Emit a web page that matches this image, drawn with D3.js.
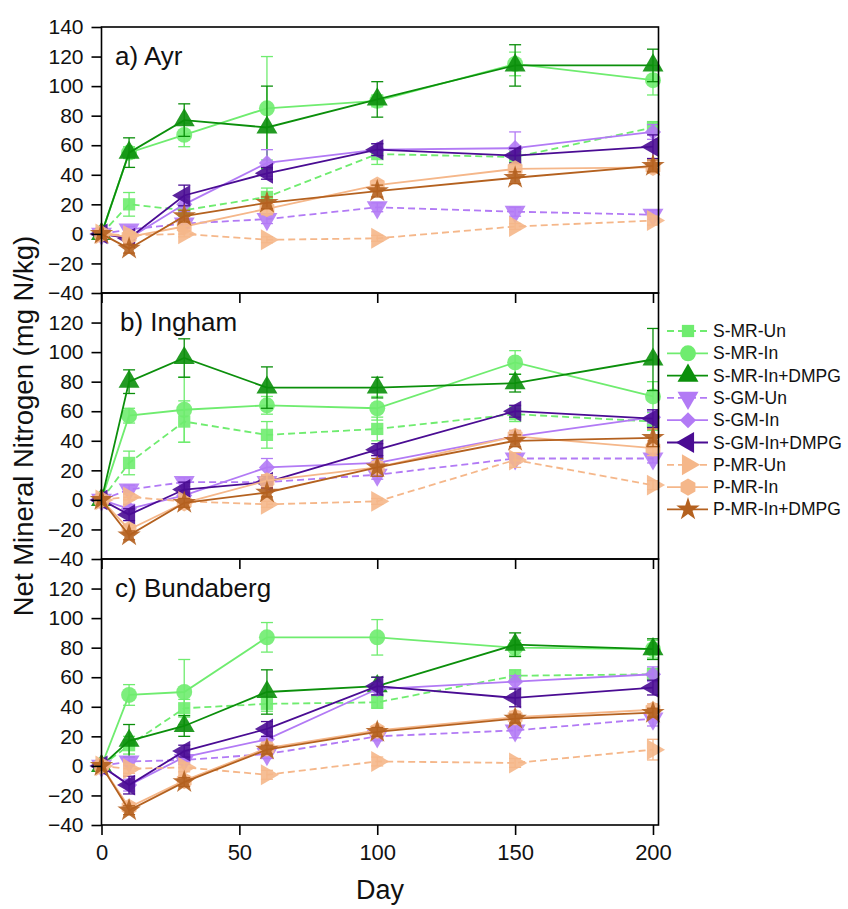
<!DOCTYPE html>
<html>
<head>
<meta charset="utf-8">
<script src="https://cdn.jsdelivr.net/npm/d3@7"></script>
<style>
body { margin: 0; background: #fff; }
svg { font-family: "Liberation Sans", Arial, sans-serif; }
</style>
</head>
<body>
<svg id="chart" width="848" height="909"></svg>
<script>
const days = [0, 10, 30, 60, 100, 150, 200];
const seriesNames = ["S-MR-Un", "S-MR-In", "S-MR-In+DMPG", "S-GM-Un", "S-GM-In", "S-GM-In+DMPG", "P-MR-Un", "P-MR-In", "P-MR-In+DMPG"];
const siteLabels = ["a) Ayr", "b) Ingham", "c) Bundaberg"];
const yTicks = [-40, -20, 0, 20, 40, 60, 80, 100, 120, 140];
const xTicks = [0, 50, 100, 150, 200];

// one row per series, one column per day
const ayrMeans = [
  [0, 20, 16, 25, 54, 52, 72],
  [0, 55, 67, 85, 90, 115, 104],
  [0, 55, 77, 72, 91, 114, 114],
  [0, 3, 7, 10, 18, 15, 13],
  [0, -3, 20, 48, 57, 58, 69],
  [0, -3, 26, 41, 57, 53, 59],
  [0, -1, 0, -4, -3, 5, 9],
  [0, -2, 5, 17, 33, 44, 45],
  [0, -10, 12, 21, 29, 38, 46]
];
const ayrErrors = [
  [0, 8, 4, 6, 7, 4, 4],
  [0, 4, 8, 35, 4, 8, 10],
  [0, 10, 11, 28, 12, 14, 11],
  [0, 2, 3, 3, 3, 3, 3],
  [0, 3, 5, 9, 4, 11, 5],
  [0, 3, 7, 4, 4, 5, 8],
  [0, 2, 2, 2, 2, 2, 3],
  [0, 3, 3, 4, 3, 3, 4],
  [0, 3, 4, 4, 4, 4, 4]
];

const inghamMeans = [
  [0, 25, 53, 44, 48, 58, 53],
  [0, 57, 61, 64, 62, 93, 70],
  [0, 80, 96, 76, 76, 79, 95],
  [0, 7, 12, 12, 17, 28, 28],
  [0, -6, 3, 22, 25, 43, 56],
  [0, -10, 7, 12, 34, 60, 55],
  [0, 2, -1, -3, -1, 27, 10],
  [0, -20, -2, 13, 22, 43, 35],
  [0, -24, -2, 5, 22, 40, 42]
];
const inghamErrors = [
  [0, 8, 14, 9, 8, 5, 6],
  [0, 5, 22, 6, 8, 8, 10],
  [0, 8, 13, 14, 7, 6, 21],
  [0, 3, 3, 3, 3, 3, 3],
  [0, 3, 4, 6, 5, 4, 4],
  [0, 4, 5, 4, 4, 4, 6],
  [0, 2, 2, 2, 2, 5, 3],
  [0, 3, 3, 4, 4, 4, 5],
  [0, 3, 3, 3, 6, 4, 6]
];

const bundabergMeans = [
  [0, 14, 39, 42, 43, 61, 62],
  [0, 48, 50, 87, 87, 80, 79],
  [0, 17, 27, 50, 54, 82, 79],
  [0, 3, 4, 8, 20, 24, 32],
  [0, -13, 6, 18, 52, 57, 62],
  [0, -13, 10, 25, 54, 46, 53],
  [0, -2, -1, -6, 3, 2, 11],
  [0, -28, -10, 12, 24, 33, 38],
  [0, -30, -11, 11, 23, 32, 36]
];
const bundabergErrors = [
  [0, 6, 6, 5, 4, 4, 4],
  [0, 7, 22, 10, 12, 5, 6],
  [0, 11, 7, 15, 6, 8, 7],
  [0, 3, 3, 3, 3, 5, 5],
  [0, 4, 4, 5, 4, 4, 5],
  [0, 6, 4, 5, 6, 6, 5],
  [0, 3, 3, 3, 3, 3, 7],
  [0, 3, 3, 4, 3, 4, 4],
  [0, 3, 3, 3, 3, 3, 3]
];

const siteMeans = [ayrMeans, inghamMeans, bundabergMeans];
const siteErrors = [ayrErrors, inghamErrors, bundabergErrors];

// look of each series
const seriesColor = ["#6fec6f", "#6fec6f", "#0b8f0b", "#b27af5", "#b27af5", "#4a0c93", "#f5b78a", "#f5b78a", "#b4611f"];
const seriesDash = [true, false, false, true, false, false, true, false, false];
const seriesShape = ["square", "circle", "up", "down", "diamond", "left", "right", "hex", "star"];

const svg = d3.select("#chart");
const left = 101.5, right = 658.5;
const panelTop = 27, panelH = 266;

const x = d3.scaleLinear().domain([0, 202]).range([left, right]);

const hexagon = {
  draw: function(ctx, size) {
    var r = Math.sqrt(size / (1.5 * Math.sqrt(3)));
    for (var i = 0; i < 6; i++) {
      var a = Math.PI / 6 + i * Math.PI / 3;
      if (i === 0) ctx.moveTo(r * Math.cos(a), r * Math.sin(a));
      else ctx.lineTo(r * Math.cos(a), r * Math.sin(a));
    }
    ctx.closePath();
  }
};

function markerPath(shape) {
  switch (shape) {
    case "square": return d3.symbol(d3.symbolSquare, 150)();
    case "circle": return d3.symbol(d3.symbolCircle, 200)();
    case "diamond": return d3.symbol(d3.symbolSquare, 130)();
    case "hex": return d3.symbol(hexagon, 190)();
    case "star": return d3.symbol(d3.symbolStar, 170)();
    default: return d3.symbol(d3.symbolTriangle, 190)();
  }
}
function markerRotate(shape) {
  if (shape === "down") return 180;
  if (shape === "left") return -90;
  if (shape === "right") return 90;
  if (shape === "diamond") return 45;
  return 0;
}

siteLabels.forEach(function(label, p) {
  var top = panelTop + p * panelH;
  var y = d3.scaleLinear().domain([-40, 140]).range([top + panelH, top]);
  var g = svg.append("g");

  // series lines, error bars, markers
  seriesNames.forEach(function(name, s) {
    var means = siteMeans[p][s];
    var errs = siteErrors[p][s];
    var col = seriesColor[s];
    var pts = days.map(function(d, i) { return { day: d, v: means[i], e: errs[i] }; });
    var sg = g.append("g");

    sg.append("path")
      .datum(pts)
      .attr("fill", "none")
      .attr("stroke", col)
      .attr("stroke-width", 1.8)
      .attr("stroke-dasharray", seriesDash[s] ? "7,4" : null)
      .attr("d", d3.line().x(function(d) { return x(d.day); }).y(function(d) { return y(d.v); }));

    var eb = sg.selectAll(".err")
      .data(pts.filter(function(d) { return d.e > 0; }))
      .enter()
      .append("g")
      .attr("stroke", col)
      .attr("stroke-width", 1.3);
    eb.append("line")
      .attr("x1", function(d) { return x(d.day); })
      .attr("x2", function(d) { return x(d.day); })
      .attr("y1", function(d) { return y(d.v - d.e); })
      .attr("y2", function(d) { return y(d.v + d.e); });
    [1, -1].forEach(function(sign) {
      eb.append("line")
        .attr("x1", function(d) { return x(d.day) - 6; })
        .attr("x2", function(d) { return x(d.day) + 6; })
        .attr("y1", function(d) { return y(d.v + sign * d.e); })
        .attr("y2", function(d) { return y(d.v + sign * d.e); });
    });

    sg.selectAll(".mk")
      .data(pts)
      .enter()
      .append("path")
      .attr("d", markerPath(seriesShape[s]))
      .attr("fill", col)
      .attr("fill-opacity", 0.9)
      .attr("transform", function(d) {
        return "translate(" + x(d.day) + "," + y(d.v) + ") rotate(" + markerRotate(seriesShape[s]) + ")";
      });
  });

  // frame and axes
  g.append("rect")
    .attr("x", left).attr("y", top)
    .attr("width", right - left).attr("height", panelH)
    .attr("fill", "none").attr("stroke", "#000").attr("stroke-width", 1.6);

  var yAxis = g.append("g")
    .attr("transform", "translate(" + left + ",0)")
    .call(d3.axisLeft(y).tickValues(p === 0 ? yTicks : yTicks.slice(0, -1)).tickSize(10).tickPadding(8));
  var xAxis = g.append("g")
    .attr("transform", "translate(0," + (top + panelH) + ")")
    .call(d3.axisBottom(x).tickValues(xTicks).tickSize(10).tickPadding(9)
      .tickFormat(p === 2 ? d3.format("d") : function() { return ""; }));
  [yAxis, xAxis].forEach(function(a) {
    a.select(".domain").remove();
    a.selectAll("line").attr("stroke", "#000").attr("stroke-width", 1.6);
    a.selectAll("text").attr("fill", "#111")
      .style("font-family", "'Liberation Sans', Arial, sans-serif");
  });
  yAxis.selectAll("text").style("font-size", "21px");
  xAxis.selectAll("text").style("font-size", "22px");

  g.append("text")
    .attr("x", p === 1 ? 120 : 115)
    .attr("y", top + 38)
    .attr("fill", "#111")
    .style("font-size", "26px")
    .text(label);
});

// legend
var legend = svg.append("g").attr("transform", "translate(667,331)");
seriesNames.forEach(function(name, s) {
  var row = legend.append("g").attr("transform", "translate(0," + (s * 22.3) + ")");
  row.append("line")
    .attr("x1", 0).attr("x2", 41).attr("y1", 0).attr("y2", 0)
    .attr("stroke", seriesColor[s]).attr("stroke-width", 1.8)
    .attr("stroke-dasharray", seriesDash[s] ? "7,4" : null);
  row.append("path")
    .attr("d", markerPath(seriesShape[s]))
    .attr("fill", seriesColor[s])
    .attr("transform", "translate(21,0) rotate(" + markerRotate(seriesShape[s]) + ")");
  row.append("text")
    .attr("x", 46).attr("y", 6)
    .attr("fill", "#111")
    .style("font-size", "17.5px")
    .text(name);
});

// axis titles
svg.append("text")
  .attr("transform", "translate(33,426) rotate(-90)")
  .attr("text-anchor", "middle")
  .attr("fill", "#111")
  .style("font-size", "27.5px")
  .text("Net Mineral Nitrogen (mg N/kg)");
svg.append("text")
  .attr("x", 380).attr("y", 899)
  .attr("text-anchor", "middle")
  .attr("fill", "#111")
  .style("font-size", "27px")
  .text("Day");
</script>
</body>
</html>
